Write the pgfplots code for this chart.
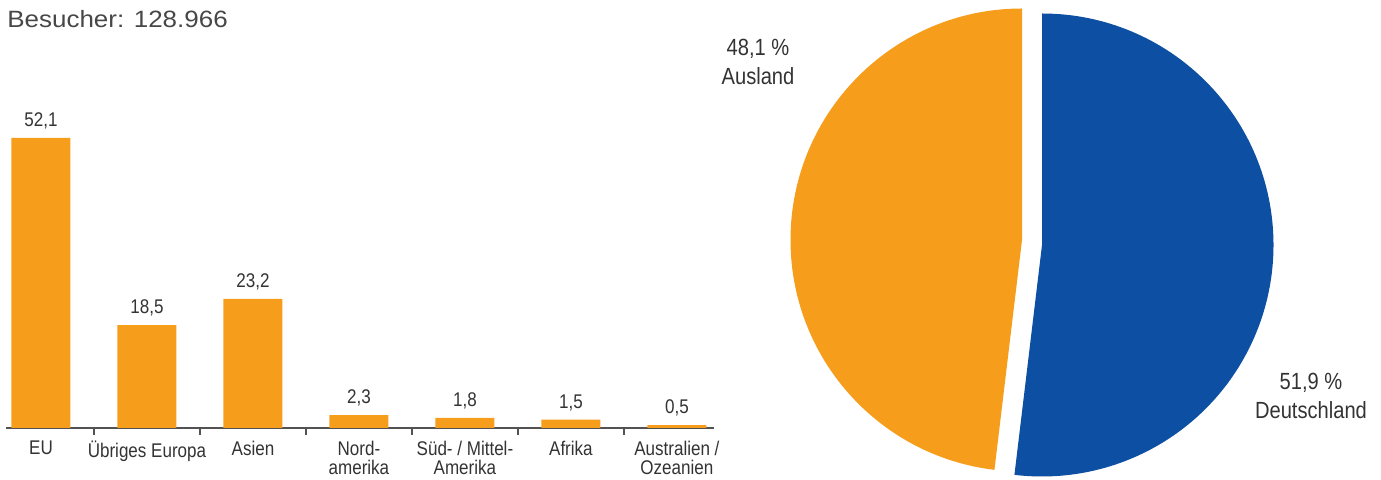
\documentclass[border=0pt]{standalone}
\usepackage{pgfplots}
\pgfplotsset{compat=1.18}
\usepackage{fontspec}
\setmainfont{Liberation Sans}
\newfontfamily\cond{Liberation Sans}[FakeStretch=0.86]
\newfontfamily\wide{Liberation Sans}[FakeStretch=1.1]
\definecolor{barorange}{HTML}{F69E1C}
\definecolor{pieblue}{HTML}{0D4FA2}
\definecolor{txt}{HTML}{333333}
\begin{document}
\begin{tikzpicture}
\path[use as bounding box] (0,0) rectangle (690.5pt,240pt);
% bar chart: share of foreign visitors by region
\begin{axis}[
    at={(3pt,26pt)}, anchor=south west,
    scale only axis, width=354pt, height=167pt,
    xmin=-0.33, xmax=6.35, ymin=0, ymax=60,
    axis x line*=bottom, axis y line=none,
    x axis line style={color=txt!85, line width=0.7pt},
    ybar, bar width=29.5pt,
    xtick={0,...,6},
    xticklabels={EU, Übriges Europa, Asien, {Nord-\\amerika}, {Süd- / Mittel-\\Amerika}, Afrika, {Australien /\\Ozeanien}},
    major tick length=0pt,
    minor xtick={0.5,1.5,...,5.5},
    minor tick length=3.5pt,
    tick align=outside,
    minor tick style={color=txt!85, line width=0.6pt},
    xticklabel style={font=\cond\fontsize{9.9}{9.6}\selectfont, align=center, text=txt, anchor=north, yshift=-3pt},
    nodes near coords,
    /pgf/number format/.cd, use comma, fixed, fixed zerofill, precision=1, assume math mode=true,
    /pgfplots/.cd,
    every node near coord/.append style={font=\cond\fontsize{9.9}{10}\selectfont, text=txt, yshift=1pt},
    clip=false,
]
\addplot[fill=barorange, draw=none] coordinates {
    (0,52.1) (1,18.5) (2,23.2) (3,2.3) (4,1.8) (5,1.5) (6,0.5)
};
\end{axis}
% pie chart: Deutschland / Ausland (pixel coordinates)
\pgfmathsetmacro{\angA}{90+48.1*3.6}
\pgfmathsetmacro{\angB}{90-51.9*3.6}
\begin{axis}[
    at={(0,0)}, anchor=south west,
    scale only axis, width=690.5pt, height=240pt,
    xmin=0, xmax=1381, ymin=0, ymax=480, y dir=reverse,
    hide axis, clip=false,
]
\fill[barorange] (axis cs:1022,240) -- (axis cs:1022,8.5) arc[start angle=90, end angle=\angA, radius=115.75pt] -- cycle;
\fill[pieblue] (axis cs:1042,245) -- (axis cs:1042,13.5) arc[start angle=90, end angle=\angB, radius=115.75pt] -- cycle;
\node[align=center, text=txt, font=\cond\fontsize{11.7}{14.5}\selectfont] at (axis cs:758,62) {48,1 \%\\Ausland};
\node[align=center, text=txt, font=\cond\fontsize{11.7}{14.5}\selectfont] at (axis cs:1311,396) {51,9 \%\\Deutschland};
\node[anchor=base west, inner sep=0pt, text=txt!90, font=\wide\fontsize{11.8}{12}\selectfont] at (axis cs:7,28) {Besucher: 128.966};
\end{axis}
\end{tikzpicture}
\end{document}
